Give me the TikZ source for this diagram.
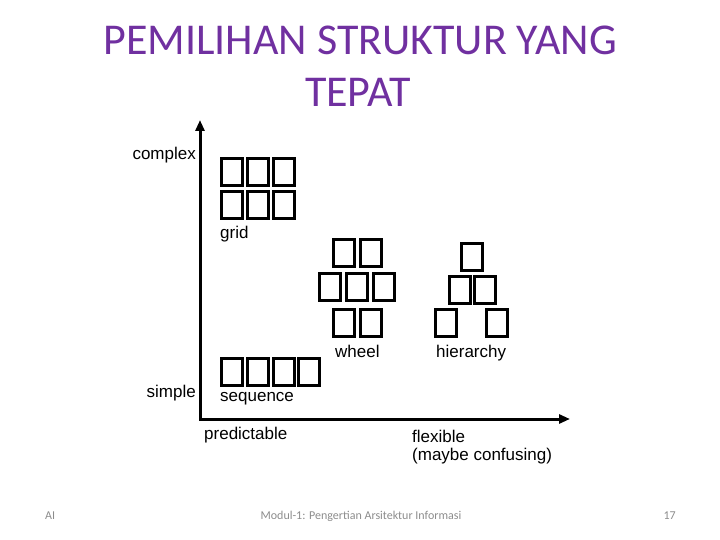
\documentclass[tikz,border=0pt]{standalone}
\usepackage{fontspec}
\setmainfont{Liberation Sans}
\newfontfamily\calfont{Carlito}
\usetikzlibrary{arrows.meta}
\definecolor{titlepurple}{HTML}{7030A0}
\definecolor{footgray}{HTML}{8C8C8C}
\tikzset{
  boxcell/.style={draw, line width=3pt, minimum width=21pt, minimum height=27pt, inner sep=0pt},
  lbl/.style={inner sep=0pt, font=\fontsize{17}{20}\selectfont},
  foot/.style={inner sep=0pt, text=footgray, font=\calfont\fontsize{12}{14}\selectfont},
  ttl/.style={inner sep=0pt, text=titlepurple, font=\calfont\fontsize{44}{52}\selectfont},
  axisline/.style={line width=3pt, {Triangle[length=11pt,width=9pt]}-{Triangle[length=11pt,width=9pt]}}
}
\begin{document}
\begin{tikzpicture}[x=1pt,y=-1pt]
\useasboundingbox (0,0) rectangle (720,540);
% title
\node[ttl, anchor=base] (title1) at (360,55) {PEMILIHAN STRUKTUR YANG};
\node[ttl, anchor=base] (title2) at (358,107) {TEPAT};
% axes
\coordinate (top) at (200,120);
\coordinate (origin) at (200,419);
\coordinate (right) at (570,419);
\draw[axisline] (top) -- (origin) -- (right);
% axis labels
\node[lbl, anchor=base east] (complex) at (196,160) {complex};
\node[lbl, anchor=base east] (simple) at (196,397) {simple};
\node[lbl, anchor=base west] (predictable) at (204,439) {predictable};
\node[lbl, anchor=base west] (flexible) at (412,442) {flexible};
\node[lbl, anchor=base west] (confusing) at (412,460) {(maybe confusing)};
% grid
\node[boxcell] (g1) at (232,172) {};
\node[boxcell] (g2) at (258,172) {};
\node[boxcell] (g3) at (284,172) {};
\node[boxcell] (g4) at (232,205) {};
\node[boxcell] (g5) at (258,205) {};
\node[boxcell] (g6) at (284,205) {};
\node[lbl, anchor=base west] (gridlbl) at (220,238) {grid};
% wheel
\node[boxcell] (w1) at (343.5,252.5) {};
\node[boxcell] (w2) at (370.5,252.5) {};
\node[boxcell] (w3) at (329.5,287) {};
\node[boxcell] (w4) at (356.5,287) {};
\node[boxcell] (w5) at (383.5,287) {};
\node[boxcell] (w6) at (343.5,322.5) {};
\node[boxcell] (w7) at (370.5,322.5) {};
\node[lbl, anchor=base west] (wheellbl) at (335,357) {wheel};
% hierarchy
\node[boxcell] (h1) at (471.5,256.5) {};
\node[boxcell] (h2) at (460,289.5) {};
\node[boxcell] (h3) at (485,289.5) {};
\node[boxcell] (h4) at (445.5,322.5) {};
\node[boxcell] (h5) at (496.5,322.5) {};
\node[lbl, anchor=base west] (hierlbl) at (436,357) {hierarchy};
% sequence
\node[boxcell] (s1) at (232,372) {};
\node[boxcell] (s2) at (258,372) {};
\node[boxcell] (s3) at (284,372) {};
\node[boxcell] (s4) at (309,372) {};
\node[lbl, anchor=base west] (seqlbl) at (220,401) {sequence};
% footer
\node[foot, anchor=base west] (footai) at (45,519) {AI};
\node[foot, anchor=base] (footmid) at (361,519) {Modul-1: Pengertian Arsitektur Informasi};
\node[foot, anchor=base east] (footnum) at (676,519) {17};
\end{tikzpicture}
\end{document}
